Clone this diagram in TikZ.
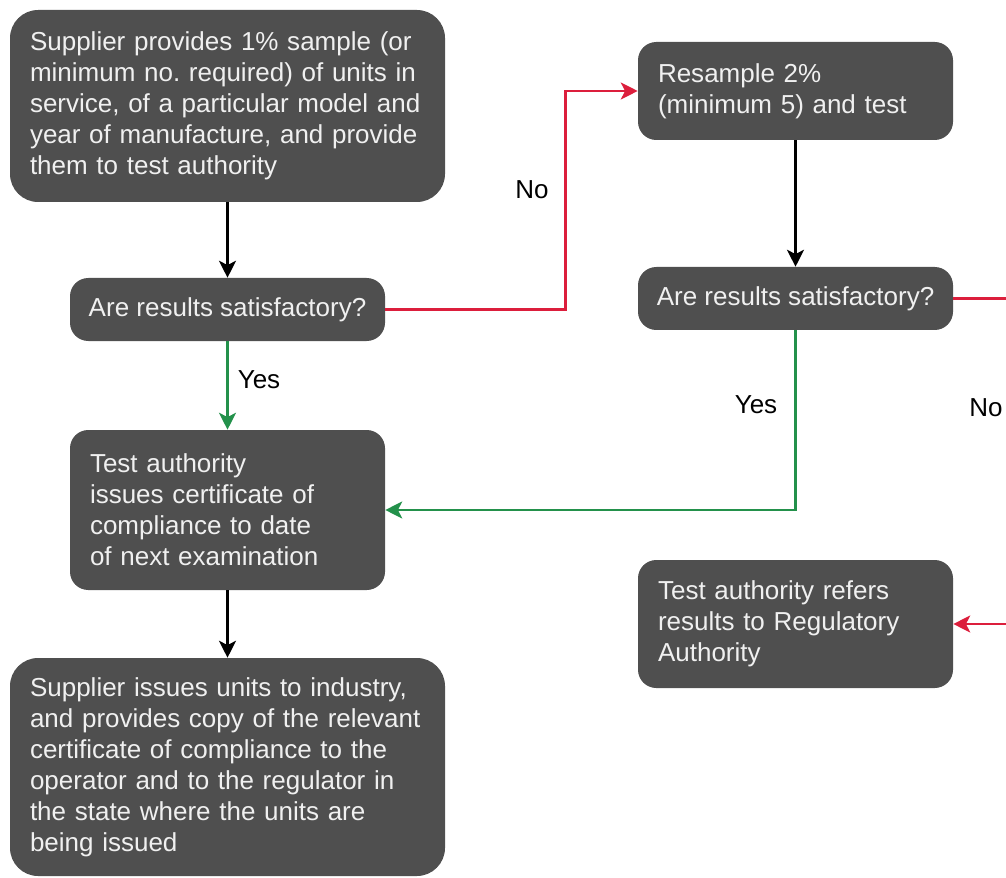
\documentclass[tikz,border=0pt]{standalone}
\usepackage{fontspec}
\setmainfont{Liberation Sans}
\usetikzlibrary{positioning, arrows.meta, calc}
\definecolor{boxgray}{RGB}{79,79,79}
\definecolor{boxtext}{RGB}{240,240,240}
\definecolor{nored}{RGB}{220,30,60}
\definecolor{yesgreen}{RGB}{35,145,75}

\begin{document}
\begin{tikzpicture}[
  stepbox/.style={rectangle, fill=boxgray, text=boxtext,
                  minimum width=7.875cm, text width=6.875cm,
                  align=left, inner sep=0pt, rounded corners=13pt,
                  font=\fontsize{18.5}{22}\selectfont},
  askbox/.style={stepbox, text width=, minimum height=1.575cm},
  widebox/.style={stepbox, minimum width=10.875cm, text width=9.875cm,
                  rounded corners=20pt},
  arr/.style={-{Stealth[length=12pt, width=12pt, inset=3pt]}, line width=1.8pt, draw=black},
  noarr/.style={arr, draw=nored, -{Stealth[length=12pt, width=12pt, inset=3pt, fill=nored]}},
  yesarr/.style={arr, draw=yesgreen, -{Stealth[length=12pt, width=12pt, inset=3pt, fill=yesgreen]}},
  lbl/.style={font=\fontsize{18.5}{22}\selectfont, inner sep=0pt}
]
\useasboundingbox (0,0) rectangle (25.15,-21.95);

\node[widebox, minimum height=4.8cm]   (supply)  at (5.6875, -2.65)   {Supplier provides 1\% sample (or\\minimum no.\ required) of units in\\service, of a particular model and\\year of manufacture, and provide\\them to test authority};
\node[askbox]                          (check1)  at (5.6875, -7.7375) {Are results satisfactory?};
\node[stepbox, minimum height=4cm]     (cert)    at (5.6875, -12.75)  {Test authority\\issues certificate of\\compliance to date\\of next examination};
\node[widebox, minimum height=5.45cm]  (issue)   at (5.6875, -19.175) {Supplier issues units to industry,\\and provides copy of the relevant\\certificate of compliance to the\\operator and to the regulator in\\the state where the units are\\being issued};
\node[stepbox, minimum height=2.45cm]  (resamp)  at (19.8875, -2.275) {Resample 2\%\\(minimum 5) and test};
\node[askbox]                          (check2)  at (19.8875, -7.4625) {Are results satisfactory?};
\node[stepbox, minimum height=3.2cm]   (refer)   at (19.8875, -15.6)  {Test authority refers\\results to Regulatory\\Authority};

\draw[arr] (supply) -- (check1);
\draw[yesarr] (check1) -- (cert);
\draw[arr] (cert) -- (issue);
\draw[noarr] (check1.east) -| ($(resamp.west)+(-1.8,0)$) -- (resamp.west);
\draw[arr] (resamp) -- (check2);
\draw[yesarr] (check2.south) |- (cert.east);
\draw[noarr] (check2.east) -- ++(2,0) |- (refer.east);

\node[lbl] (no1)  at (13.3, -4.75)    {No};
\node[lbl] (yes1) at (6.475, -9.5)    {Yes};
\node[lbl] (yes2) at (18.9, -10.125)  {Yes};
\node[lbl] (no2)  at (24.65, -10.2)   {No};

\end{tikzpicture}
\end{document}
